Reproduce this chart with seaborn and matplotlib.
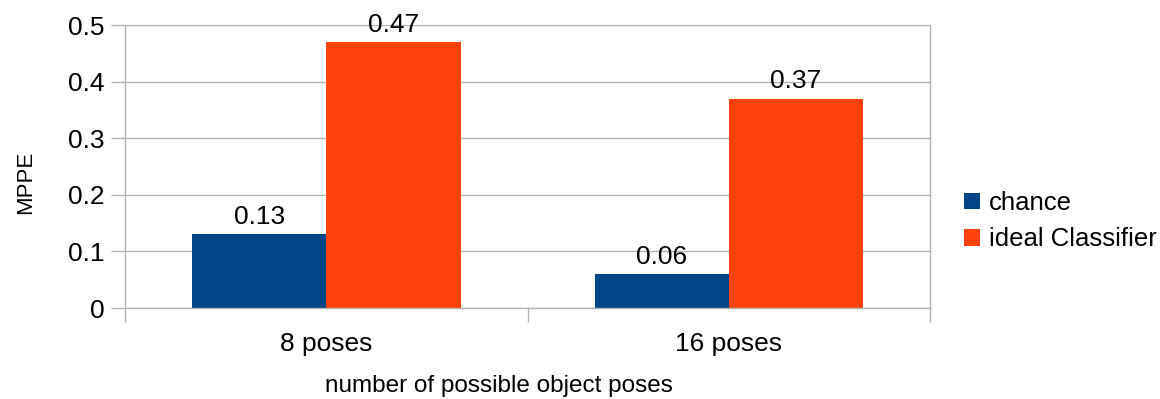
import matplotlib
matplotlib.use("Agg")
import matplotlib.pyplot as plt
import seaborn as sns
import pandas as pd

categories = ["8 poses", "16 poses"]
series_names = ["chance", "ideal Classifier"]
chance = [0.13, 0.06]
ideal_classifier = [0.47, 0.37]
y_ticks = [0, 0.1, 0.2, 0.3, 0.4, 0.5]
y_tick_labels = ["0", "0.1", "0.2", "0.3", "0.4", "0.5"]

colors = ["#004586", "#ff420e"]

df = pd.DataFrame({
    "category": categories * 2,
    "series": [series_names[0]] * 2 + [series_names[1]] * 2,
    "value": chance + ideal_classifier,
})

sns.set_theme(style="white")
plt.rcParams["font.family"] = ["Liberation Sans", "DejaVu Sans"]
plt.rcParams["text.color"] = "black"
plt.rcParams["axes.labelcolor"] = "black"
plt.rcParams["xtick.color"] = "black"
plt.rcParams["ytick.color"] = "black"

fig = plt.figure(figsize=(11.6, 3.99), dpi=100)
ax = fig.add_axes([0.1078, 0.228, 0.694, 0.709])

sns.barplot(data=df, x="category", y="value", hue="series", order=categories,
            hue_order=series_names, palette=colors, width=0.667, saturation=1,
            linewidth=0, edgecolor="none", ax=ax, legend=True)

grid_color = "#b3b3b3"
ax.set_ylim(0, 0.5)
ax.set_xlim(-0.5, 1.5)
ax.set_yticks(y_ticks)
ax.set_yticklabels(y_tick_labels)
ax.yaxis.grid(True, color=grid_color, linewidth=1)
ax.set_axisbelow(True)

# category boundaries as tick marks, names centred between them
ax.set_xticks([-0.5, 0.5, 1.5], minor=False)
ax.set_xticklabels([])
ax.set_xticks([0, 1], minor=True)
ax.set_xticklabels(categories, minor=True)
ax.tick_params(axis="x", which="major", length=10, width=1, color=grid_color,
               direction="out", bottom=True)
ax.tick_params(axis="x", which="minor", length=0, pad=17, labelsize=19,
               labelcolor="black")
ax.tick_params(axis="y", length=10, width=1, color=grid_color, left=True,
               labelsize=19, pad=5, labelcolor="black")

for side in ["left", "right", "bottom"]:
    ax.spines[side].set_visible(True)
    ax.spines[side].set_color(grid_color)
    ax.spines[side].set_linewidth(1)
ax.spines["top"].set_visible(False)

ax.set_xlabel("number of possible object poses", fontsize=17.5, va="center")
ax.xaxis.set_label_coords(0.465, -0.276)
ax.set_ylabel("MPPE", fontsize=16, va="center")
ax.yaxis.set_label_coords(-0.124, 0.445)

for container in ax.containers:
    ax.bar_label(container, labels=[f"{v:g}" for v in container.datavalues],
                 fontsize=19, padding=4, color="black")

handles, labels = ax.get_legend_handles_labels()
ax.legend(handles, labels, loc="center left", bbox_to_anchor=(1.029, 0.307),
          borderaxespad=0, frameon=False, fontsize=18.5, handlelength=0.62,
          handleheight=0.62, handletextpad=0.35, labelspacing=0.48)

fig.savefig("out.png", dpi=100)
